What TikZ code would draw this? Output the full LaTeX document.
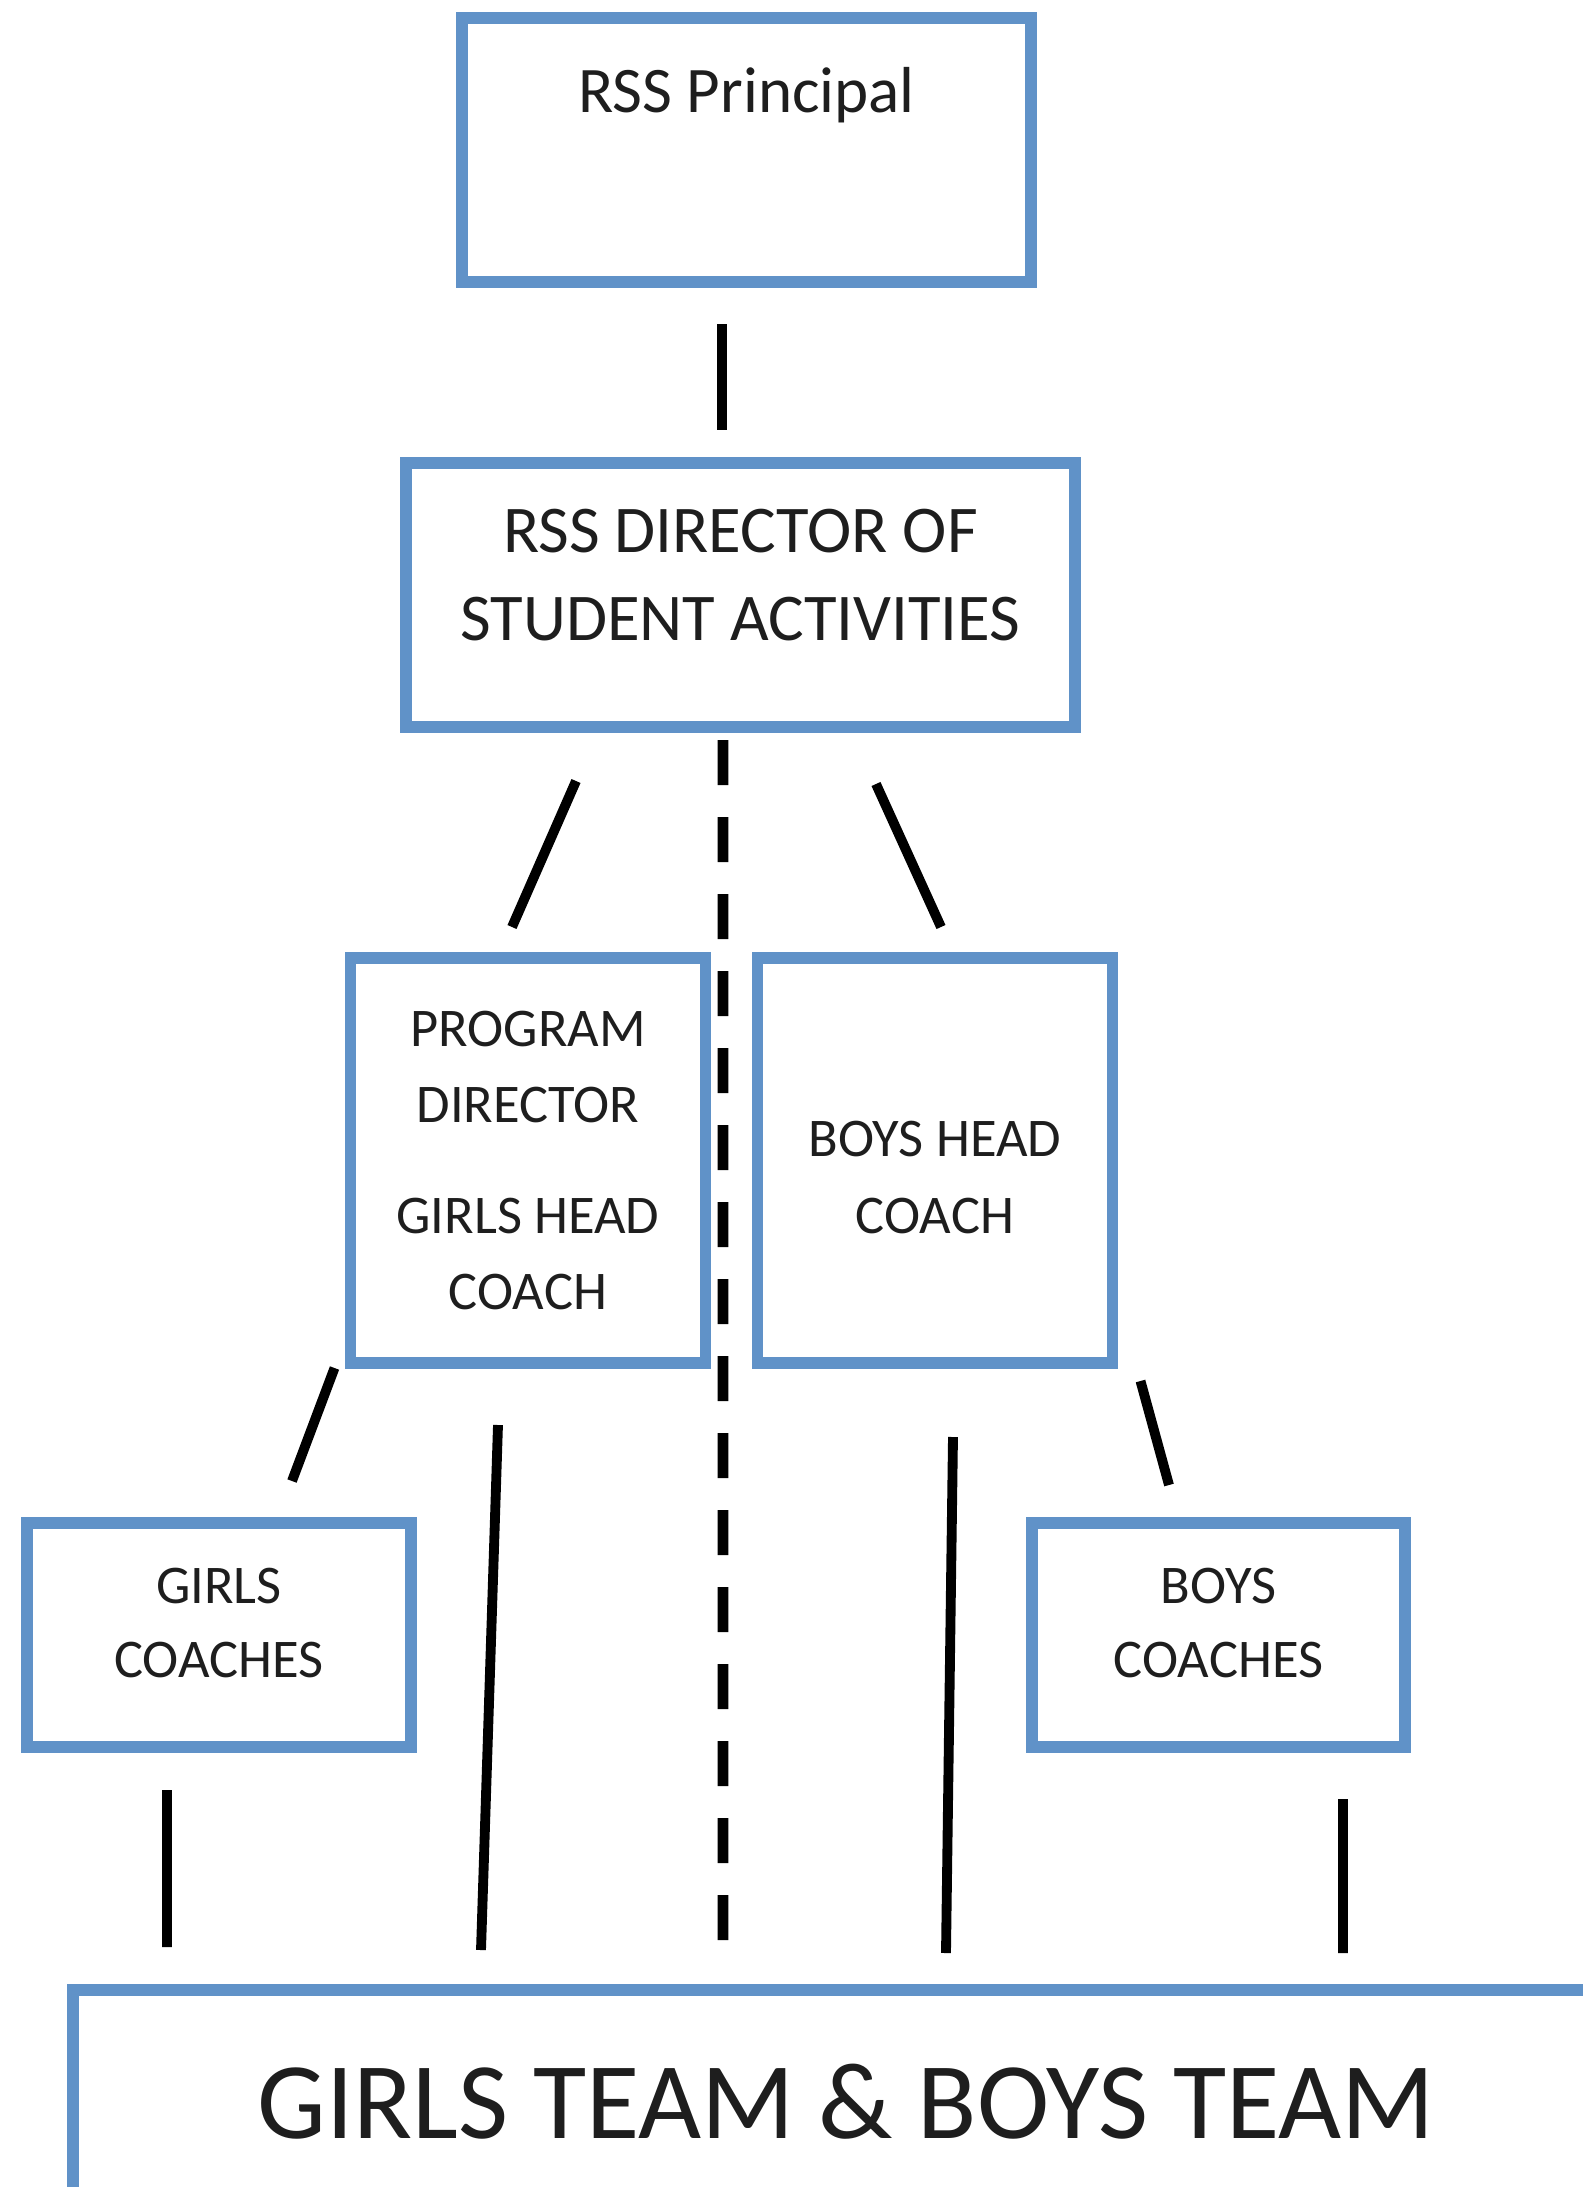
\documentclass[tikz,border=0pt]{standalone}
\usepackage{fontspec}
\setmainfont{Carlito}
\usetikzlibrary{
    positioning,
}
\definecolor{boxblue}{RGB}{96,146,200}
\definecolor{textdark}{RGB}{30,30,30}

\begin{document}
\begin{tikzpicture}[
    box/.style={draw=boxblue, line width=3.2pt, fill=white, text=textdark,
                align=center, inner sep=0pt, outer sep=0pt},
    midbox/.style={box, minimum width=3.55cm, minimum height=4.05cm,
                font=\fontsize{15.5}{21.8}\selectfont},
    coachbox/.style={box, minimum height=2.24cm, text depth=0.25cm,
                font=\fontsize{15.5}{21}\selectfont},
    link/.style={line width=2.8pt, black},
    divider/.style={line width=3pt, black, dash pattern=on 0.45cm off 0.32cm},
]

\useasboundingbox[fill=white] (0,0) rectangle (15.83,-21.87);

\node[box, minimum width=5.69cm, minimum height=2.64cm, font=\fontsize{18.5}{22}\selectfont,
      text height=0.5cm, text depth=1.26cm] at (7.465,-1.50) (principal) {RSS Principal};

\node[box, minimum width=6.69cm, minimum height=2.64cm, font=\fontsize{19}{25.2}\selectfont,
      text depth=0.4cm] at (7.405,-5.95) (director) {RSS DIRECTOR OF\\STUDENT ACTIVITIES};

\node[midbox] at (5.28,-11.605) (pd) {PROGRAM\\DIRECTOR\\[0.34cm]GIRLS HEAD\\COACH};
\node[midbox, text height=1.46cm] (bhc) [right=0.52cm of pd] {BOYS HEAD\\COACH};

\node[coachbox, minimum width=3.84cm] at (2.19,-16.35) (gc) {GIRLS\\COACHES};
\node[coachbox, minimum width=3.73cm] (bc) [right=6.21cm of gc] {BOYS\\COACHES};

\node[box, minimum width=15.46cm, minimum height=2.24cm, font=\fontsize{31}{36}\selectfont]
      at (8.46,-21.02) (team) {GIRLS TEAM \& BOYS TEAM};

% top of the chart
\draw[link] ([xshift=-0.245cm,yshift=-0.42cm]principal.south) -- ([xshift=-0.185cm,yshift=0.33cm]director.north);
\draw[link] ([xshift=-1.645cm,yshift=-0.54cm]director.south) -- ([xshift=-0.16cm,yshift=0.31cm]pd.north);
\draw[link] ([xshift=1.355cm,yshift=-0.57cm]director.south) -- ([xshift=0.06cm,yshift=0.31cm]bhc.north);
\draw[divider] ([xshift=-0.175cm,yshift=-0.13cm]director.south) -- ([xshift=6.50cm,yshift=0.50cm]team.north west);

% coaches and teams
\draw[link] ([xshift=-0.16cm,yshift=-0.05cm]pd.south west) -- ([xshift=0.73cm,yshift=0.42cm]gc.north);
\draw[link] ([xshift=-0.30cm,yshift=-0.62cm]pd.south) -- ([xshift=4.08cm,yshift=0.40cm]team.north west);
\draw[link] ([xshift=0.18cm,yshift=-0.74cm]bhc.south) -- ([xshift=8.73cm,yshift=0.37cm]team.north west);
\draw[link] ([xshift=0.28cm,yshift=-0.18cm]bhc.south east) -- ([xshift=-0.495cm,yshift=0.38cm]bc.north);
\draw[link] ([xshift=-0.52cm,yshift=-0.43cm]gc.south) -- ([xshift=0.94cm,yshift=0.43cm]team.north west);
\draw[link] ([xshift=1.245cm,yshift=-0.52cm]bc.south) -- ([xshift=12.70cm,yshift=0.37cm]team.north west);

\end{tikzpicture}
\end{document}
